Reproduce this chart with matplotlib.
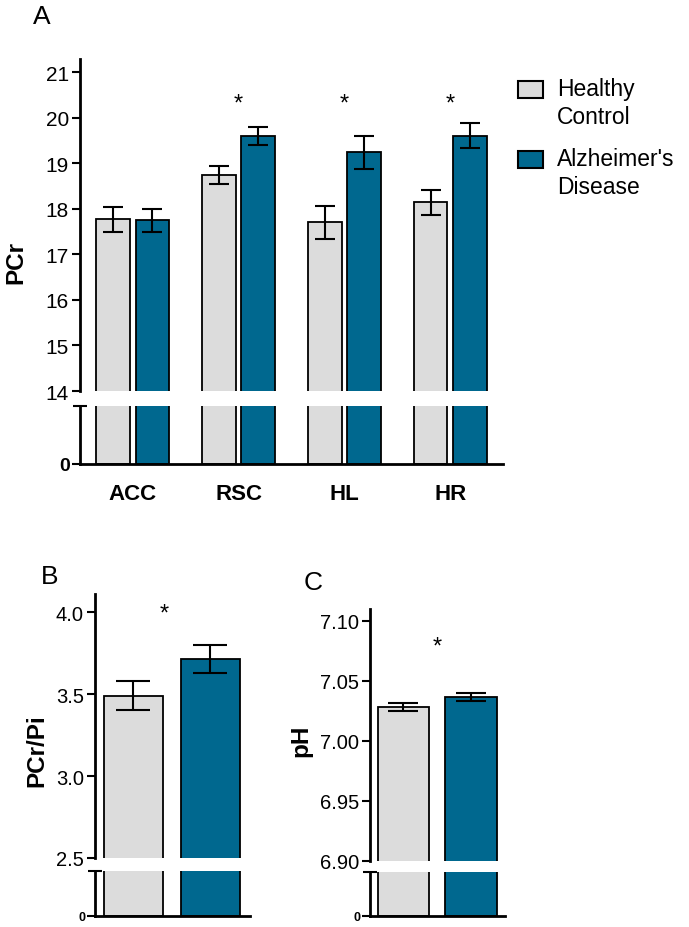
import numpy as np
import matplotlib.pyplot as plt
from matplotlib.patches import Rectangle

plt.rcParams['font.family'] = ['Liberation Sans', 'DejaVu Sans']

# Panel A data
regions = ['ACC', 'RSC', 'HL', 'HR']
pcr_hc = [17.77, 18.74, 17.70, 18.14]
pcr_hc_err = [0.27, 0.20, 0.37, 0.27]
pcr_ad = [17.75, 19.60, 19.24, 19.61]
pcr_ad_err = [0.25, 0.20, 0.37, 0.28]
pcr_sig = [False, True, True, True]

# Panel B data
pcrpi_vals = [3.49, 3.715]
pcrpi_err = [0.088, 0.085]

# Panel C data
ph_vals = [7.0283, 7.0367]
ph_err = [0.0033, 0.003]

groups = ['Healthy\nControl', "Alzheimer's\nDisease"]
hc_col = '#dcdcdc'
ad_col = '#00688f'

W, H = 689, 928
fig = plt.figure(figsize=(W / 100, H / 100), dpi=100)


def box(x0, x1, y0, y1):
    # pixel box -> figure fraction rect
    return [x0 / W, 1 - y1 / H, (x1 - x0) / W, (y1 - y0) / H]


def style_top(ax, lo, hi, ticks, fmt, tsize):
    ax.set_ylim(lo, hi)
    ax.set_yticks(ticks)
    ax.set_yticklabels([fmt.format(t) for t in ticks], fontsize=tsize)
    ax.set_yticks([lo], minor=True)
    ax.tick_params(axis='y', which='major', direction='out', length=6, width=1.5, pad=2)
    ax.tick_params(axis='y', which='minor', direction='inout', length=10, width=1.5)
    ax.spines[['top', 'right', 'bottom']].set_visible(False)
    ax.spines['left'].set_linewidth(2)
    ax.set_xticks([])
    ax.patch.set_alpha(0)


def style_bot(ax, zsize):
    ax.set_ylim(0, 1)
    ax.set_yticks([0])
    ax.set_yticklabels(['0'], fontsize=zsize, fontweight='bold')
    ax.set_yticks([1], minor=True)
    ax.tick_params(axis='y', which='major', direction='out', length=6, width=1.5, pad=1)
    ax.tick_params(axis='y', which='minor', direction='inout', length=10, width=1.5)
    ax.spines[['top', 'right']].set_visible(False)
    ax.spines['left'].set_linewidth(2)
    ax.spines['bottom'].set_linewidth(2)
    ax.patch.set_alpha(0)


bar_kw = dict(edgecolor='black', linewidth=1.3)
err_kw = dict(fmt='none', ecolor='black', elinewidth=1.5, capthick=1.5)

# ---------- Panel A ----------
x = np.arange(len(regions))
off, w = 0.185, 0.32
axA = fig.add_axes(box(80, 503, 60, 392))
axA0 = fig.add_axes(box(80, 503, 407, 465))
for ax in (axA, axA0):
    ax.bar(x - off, pcr_hc, w, color=hc_col, **bar_kw)
    ax.bar(x + off, pcr_ad, w, color=ad_col, **bar_kw)
    ax.set_xlim(-0.5, 3.5)
axA.errorbar(x - off, pcr_hc, yerr=pcr_hc_err, capsize=7, **err_kw)
axA.errorbar(x + off, pcr_ad, yerr=pcr_ad_err, capsize=7, **err_kw)
for i, s in enumerate(pcr_sig):
    if s:
        axA.text(x[i], 20.32, '*', ha='center', va='center', fontsize=17)
style_top(axA, 14, 21.29, np.arange(14, 22), '{:.0f}', 15)
style_bot(axA0, 14)
axA0.set_xticks(x)
axA0.set_xticklabels(regions, fontsize=16, fontweight='bold')
axA0.tick_params(axis='x', length=0, pad=14)
axA.set_ylabel('PCr', fontsize=17.5, fontweight='bold')
axA.yaxis.set_label_coords(-0.125, 0.39)
fig.text(42 / W, 1 - 17 / H, 'A', fontsize=19, ha='center', va='center')

# legend (handle aligned with first line of each two-line label)
leg_cols = [hc_col, ad_col]
leg_tops = [82, 152]
for lab, col, top in zip(groups, leg_cols, leg_tops):
    fig.add_artist(Rectangle((518 / W, 1 - (top + 17) / H), 25 / W, 17 / H,
                             transform=fig.transFigure, facecolor=col,
                             edgecolor='black', linewidth=1.5))
    fig.text(557 / W, 1 - (top - 4) / H, lab, fontsize=16.5, ha='left', va='top',
             linespacing=1.3)

# ---------- Panel B ----------
xb = np.arange(2)
wb = 0.766
axB = fig.add_axes(box(95, 250, 595, 859))
axB0 = fig.add_axes(box(95, 250, 872, 917))
for ax in (axB, axB0):
    ax.bar(xb, pcrpi_vals, wb, color=[hc_col, ad_col], **bar_kw)
    ax.set_xlim(-0.5, 1.513)
axB.errorbar(xb, pcrpi_vals, yerr=pcrpi_err, capsize=12, **err_kw)
axB.text(0.4, 3.99, '*', ha='center', va='center', fontsize=17)
style_top(axB, 2.5, 4.11, [2.5, 3.0, 3.5, 4.0], '{:.1f}', 14.5)
style_bot(axB0, 9)
axB0.set_xticks([])
axB.set_ylabel('PCr/Pi', fontsize=17.5, fontweight='bold')
axB.yaxis.set_label_coords(-0.30, 0.41)
fig.text(50 / W, 1 - 577 / H, 'B', fontsize=19, ha='center', va='center')

# ---------- Panel C ----------
axC = fig.add_axes(box(370, 505, 610, 862))
axC0 = fig.add_axes(box(370, 505, 873, 917))
for ax in (axC, axC0):
    ax.bar(xb, ph_vals, wb, color=[hc_col, ad_col], **bar_kw)
    ax.set_xlim(-0.496, 1.504)
axC.errorbar(xb, ph_vals, yerr=ph_err, capsize=10.5, **err_kw)
axC.text(0.5, 7.079, '*', ha='center', va='center', fontsize=17)
style_top(axC, 6.90, 7.11, [6.90, 6.95, 7.00, 7.05, 7.10], '{:.2f}', 14.5)
style_bot(axC0, 9)
axC0.set_xticks([])
axC.set_ylabel('pH', fontsize=17.5, fontweight='bold')
axC.yaxis.set_label_coords(-0.43, 0.48)
fig.text(313 / W, 1 - 583 / H, 'C', fontsize=19, ha='center', va='center')

plt.savefig('out.png', dpi=100)
